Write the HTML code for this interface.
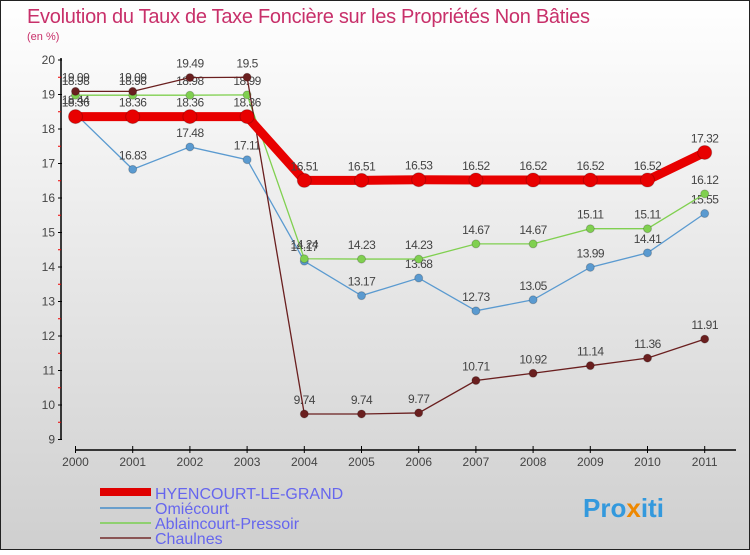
<!DOCTYPE html>
<html><head><meta charset="utf-8"><style>
body{margin:0;width:750px;height:550px;overflow:hidden;font-family:"Liberation Sans",sans-serif}
</style></head><body>
<svg id="c" width="750" height="550" xmlns="http://www.w3.org/2000/svg">
<defs><linearGradient id="bg" x1="0" y1="0" x2="0" y2="1"><stop offset="0" stop-color="#ffffff"/><stop offset="1" stop-color="#cfcfcf"/></linearGradient></defs>
<rect x="0.5" y="0.5" width="749" height="549" fill="url(#bg)" stroke="#222"/>
<text x="27" y="23" font-size="20" fill="#c8306a" textLength="563">Evolution du Taux de Taxe Foncière sur les Propriétés Non Bâties</text>
<text x="27" y="40" font-size="11" fill="#c8306a">(en %)</text>
<g id="axes"></g><g id="series"></g>
<g>
<rect x="100" y="488" width="51" height="8" fill="#e00000"/>
<text x="155" y="499" font-size="16" fill="#6666ee">HYENCOURT-LE-GRAND</text>
<rect x="100" y="507" width="51" height="2" fill="#6a9fcc"/>
<text x="155" y="514" font-size="16" fill="#6666ee">Omiécourt</text>
<rect x="100" y="522" width="51" height="2" fill="#8fd070"/>
<text x="155" y="529" font-size="16" fill="#6666ee">Ablaincourt-Pressoir</text>
<rect x="100" y="537" width="51" height="2" fill="#8a5555"/>
<text x="155" y="544" font-size="16" fill="#6666ee">Chaulnes</text>
</g>
<text x="583" y="517" font-size="26" font-weight="bold" fill="#3399dd">Pro<tspan fill="#ee8800">x</tspan>iti</text>
</svg>
<script>
const years=[2000,2001,2002,2003,2004,2005,2006,2007,2008,2009,2010,2011];
const yTicks=[9,10,11,12,13,14,15,16,17,18,19,20];
const hyencourt=[18.36,18.36,18.36,18.36,16.51,16.51,16.53,16.52,16.52,16.52,16.52,17.32];
const omiecourt=[18.44,16.83,17.48,17.11,14.17,13.17,13.68,12.73,13.05,13.99,14.41,15.55];
const ablaincourt=[18.98,18.98,18.98,18.99,14.24,14.23,14.23,14.67,14.67,15.11,15.11,16.12];
const chaulnes=[19.09,19.09,19.49,19.5,9.74,9.74,9.77,10.71,10.92,11.14,11.36,11.91];
const NS='http://www.w3.org/2000/svg';
const X=i=>75.5+i*57.2, Y=v=>60+(20-v)*34.5;
function mk(t,a,p){const e=document.createElementNS(NS,t);for(const k in a)e.setAttribute(k,a[k]);p.appendChild(e);return e;}
const ax=document.getElementById('axes');
const ya=mk('line',{x1:61,y1:58,x2:61,y2:440,stroke:'#000','stroke-width':1.5},ax);


yTicks.forEach(v=>{
 mk('line',{x1:58,y1:Y(v),x2:62,y2:Y(v),stroke:'#000'},ax);
 if(v<20)mk('line',{x1:58,y1:Y(v+0.5),x2:61,y2:Y(v+0.5),stroke:'#e00'},ax);
 const t=mk('text',{x:55,y:Y(v)+4,'font-size':12,fill:'#444','text-anchor':'end'},ax);t.textContent=v;
 
 
});
const xa=mk('line',{x1:75,y1:450,x2:736,y2:450,stroke:'#000','stroke-width':1.5},ax);


years.forEach((y,i)=>{
 mk('line',{x1:X(i),y1:446,x2:X(i),y2:453,stroke:'#000'},ax);
 const t=mk('text',{x:X(i),y:466,'font-size':12,fill:'#444','text-anchor':'middle'},ax);t.textContent=y;
 
 
});
const sg=document.getElementById('series');
function series(data,color,w,r,name){
 const g=mk('g',{},sg);
 
 
 mk('polyline',{points:data.map((v,i)=>X(i)+','+Y(v)).join(' '),fill:'none',stroke:color,'stroke-width':w},g);
 data.forEach((v,i)=>{
  const c=mk('circle',{cx:X(i),cy:Y(v),r:r,fill:color,stroke:'rgba(0,0,0,0.2)'},g);
  
  
  const t=mk('text',{x:X(i),y:Y(v)-10,'font-size':12,fill:'#444','text-anchor':'middle','letter-spacing':'-0.5'},g);
  t.textContent=String(v);
  
  
 });
}
series(omiecourt,'#5a9ad0',1.3,4,'omiecourt');
series(ablaincourt,'#80d050',1.3,4,'ablaincourt');
series(chaulnes,'#6a1f1f',1.3,4,'chaulnes');
series(hyencourt,'#e80000',9,7,'hyencourt');
</script>
</body></html>
